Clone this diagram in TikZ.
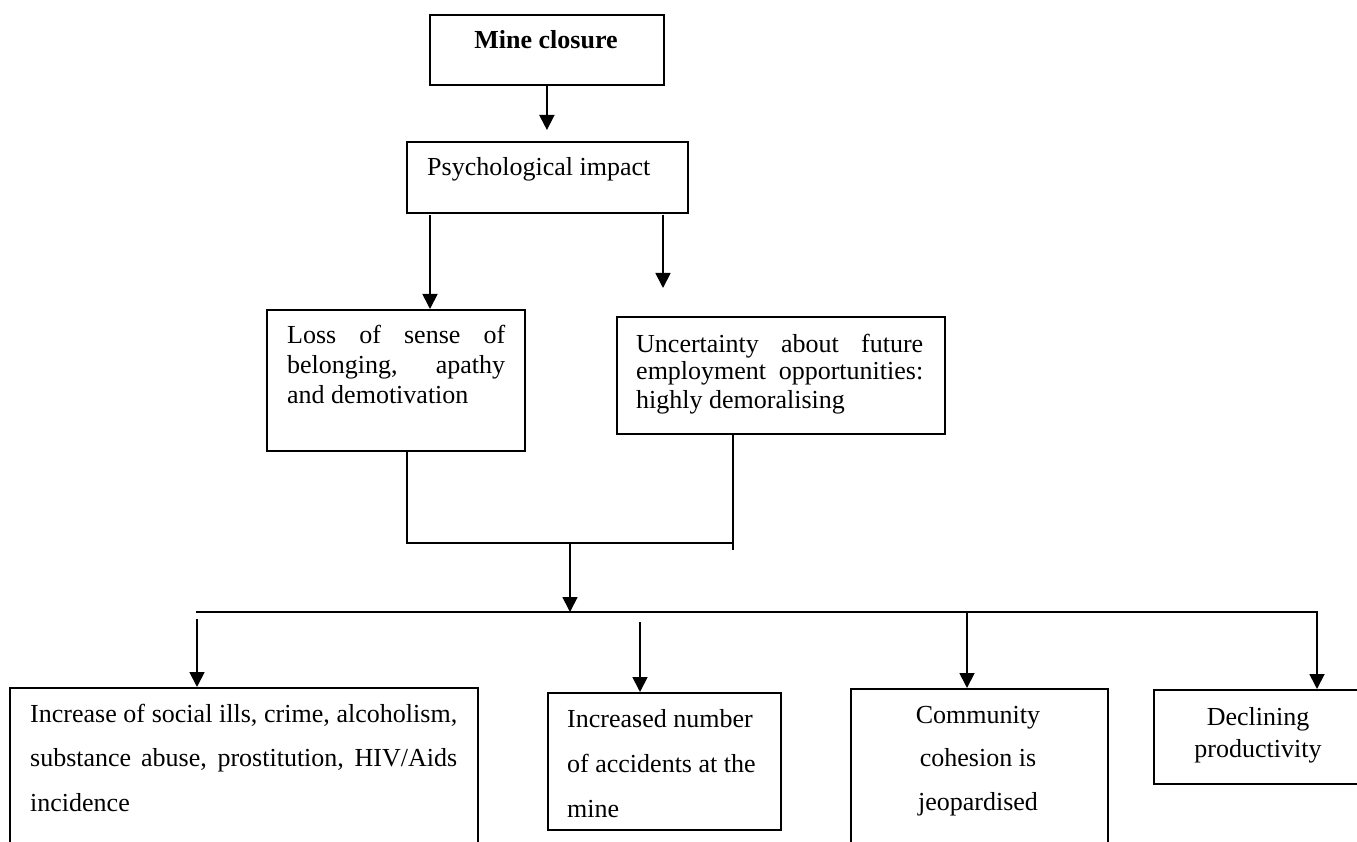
\documentclass[tikz,border=0pt]{standalone}
\usepackage{fontspec}
\setmainfont{Liberation Serif}
\usetikzlibrary{arrows.meta}
\newcommand\txtsize[1]{\fontsize{26}{#1}\selectfont\tolerance=10000\relax}
\begin{document}
\begin{tikzpicture}[x=1pt,y=-1pt,
  box/.style={draw, line width=1.8pt, inner sep=0pt, anchor=north west},
  lbl/.style={inner sep=0pt, anchor=base west},
  conn/.style={line width=1.8pt},
  arr/.style={conn, -{Triangle[width=15pt,length=15pt]}},
]
\useasboundingbox (0,0) rectangle (1357,842);
\clip (0,0) rectangle (1357,842);

% boxes
\node[box, minimum width=234pt, minimum height=70pt]  (mine)  at (429,14)  {};
\node[box, minimum width=281pt, minimum height=71pt]  (psych) at (406,141) {};
\node[box, minimum width=258pt, minimum height=141pt] (loss)  at (266,309) {};
\node[box, minimum width=328pt, minimum height=117pt] (unc)   at (616,316) {};
\node[box, minimum width=468pt, minimum height=200pt] (ills)  at (9,687)   {};
\node[box, minimum width=233pt, minimum height=137pt] (acc)   at (547,692) {};
\node[box, minimum width=257pt, minimum height=200pt] (comm)  at (850,688) {};
\node[box, minimum width=250pt, minimum height=94pt]  (prod)  at (1153,689) {};

% texts
\node[lbl, anchor=base, font=\bfseries\txtsize{30}] (tmine) at (546,49) {Mine closure};
\node[lbl, font=\txtsize{30}] (tpsych) at (427,176) {Psychological impact};
\node[lbl, font=\txtsize{30}, text width=218pt, align=justify] (tloss) at (287,343)
  {Loss of sense of\linebreak belonging, apathy\linebreak and demotivation};
\node[lbl, font=\txtsize{28}, text width=287pt, align=justify] (tunc) at (636,352)
  {Uncertainty about future\linebreak employment opportunities:\linebreak highly demoralising};
\node[lbl, font=\txtsize{44.5}, text width=427pt, align=justify] (tills) at (30,722)
  {Increase of social ills, crime, alcoholism,\linebreak substance abuse, prostitution, HIV/Aids\linebreak incidence};
\node[lbl, font=\txtsize{45}, text width=200pt, align=flush left] (tacc) at (567,727)
  {Increased number\\ of accidents at the\\ mine};
\node[lbl, anchor=base, font=\txtsize{43.5}, text width=220pt, align=flush center] (tcomm) at (978,723)
  {Community\\ cohesion is\\ jeopardised};
\node[lbl, anchor=base, font=\txtsize{32}, text width=200pt, align=flush center] (tprod) at (1258,725)
  {Declining\\ productivity};

% connector points
\coordinate (t1)  at (546,130);
\coordinate (pl)  at (430,215);
\coordinate (pr)  at (663,215);
\coordinate (tr)  at (663,288);
\coordinate (j1)  at (407,543);
\coordinate (j2)  at (733,543);
\coordinate (j2e) at (733,550);
\coordinate (jm)  at (570,543);
\coordinate (busL) at (196,612);
\coordinate (busR) at (1317,612);
\coordinate (c3)  at (967,612);
\coordinate (a1)  at (197,619);
\coordinate (a2)  at (640,622);

% connectors
\draw[arr] (mine.south) -- (mine.south |- t1);
\draw[arr] (pl) -- (pl |- loss.north);
\draw[arr] (pr) -- (tr);
\draw[conn] (loss.south -| j1) -- (j1) -- (j2);
\draw[conn] (unc.south -| j2) -- (j2e);
\draw[arr] (jm) -- (jm |- busL);
\draw[arr] (busL) -- (busR) -- (busR |- prod.north);
\draw[arr] (c3) -- (c3 |- comm.north);
\draw[arr] (a1) -- (a1 |- ills.north);
\draw[arr] (a2) -- (a2 |- acc.north);
\end{tikzpicture}
\end{document}
